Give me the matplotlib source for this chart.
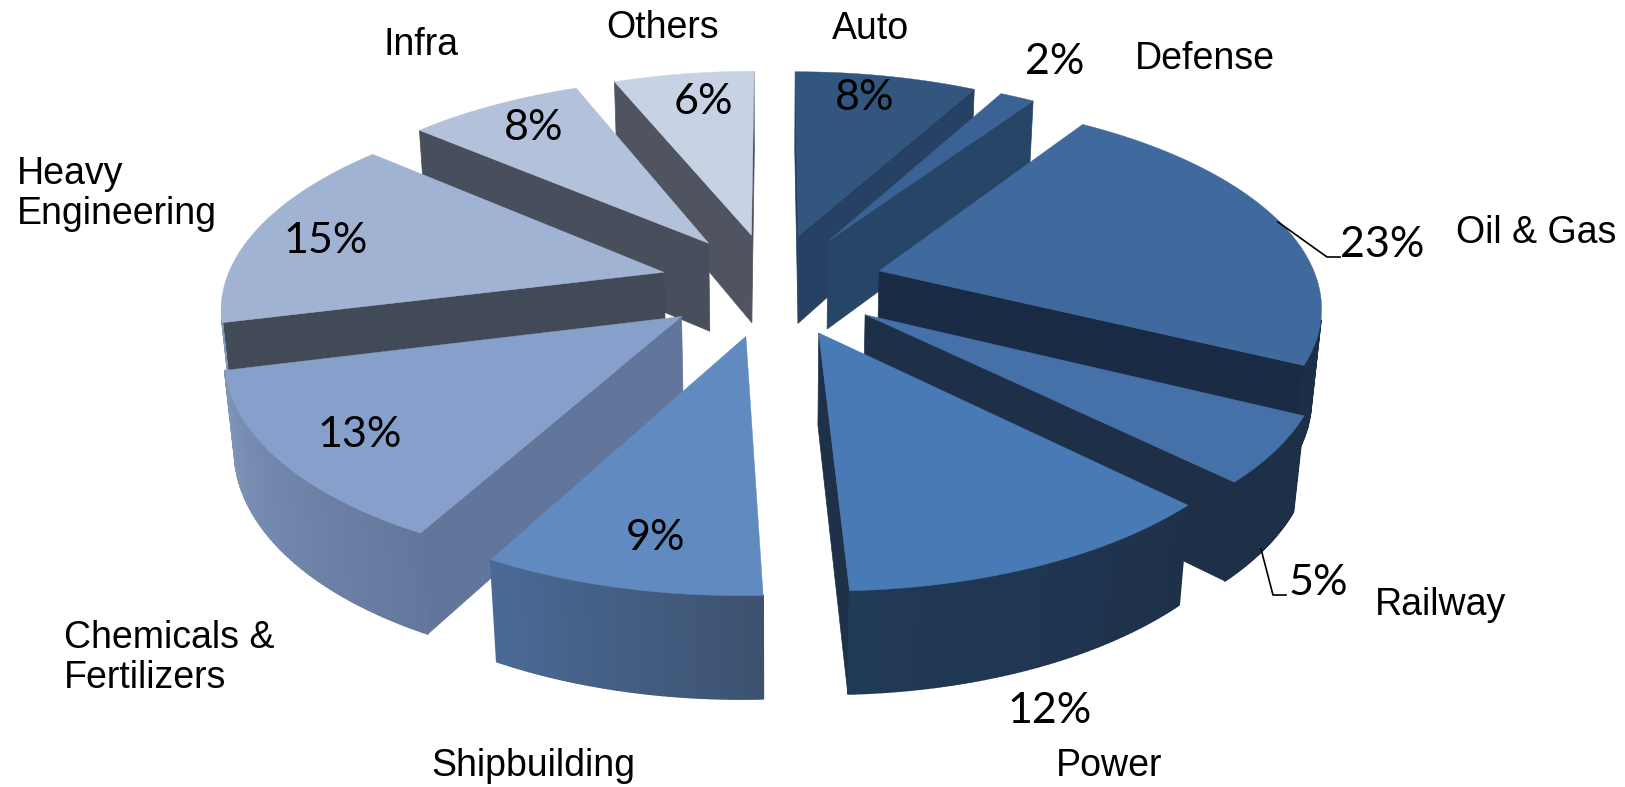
"""Exploded 3D pie of sector shares, projected by hand onto a flat axes."""
import numpy as np
import matplotlib; matplotlib.use("Agg")
import matplotlib.pyplot as plt
from matplotlib.collections import PolyCollection
from matplotlib.colors import to_rgb

sectors = ['Auto', 'Defense', 'Oil & Gas', 'Railway', 'Power', 'Shipbuilding',
           'Chemicals &\nFertilizers', 'Heavy\nEngineering', 'Infra', 'Others']
# printed labels are rounded, slice sizes are estimated from the slice angles
pct_labels = [8, 2, 23, 5, 12, 9, 13, 15, 8, 6]
shares = [7.9, 1.5, 22.9, 5.1, 11.9, 8.5, 13.2, 15.2, 7.6, 6.1]

top_cols = ['#33567f', '#3a6294', '#40699e', '#4670a8', '#487ab5',
            '#608ac0', '#87a0cb', '#a1b3d2', '#b3c1db', '#c7d2e5']
wall_cols = ['#264164', '#274567', '#1a2c45', '#1e3048', '#1e3149',
             '#3d5270', '#62759a', '#424a58', '#484e5b', '#4f5460']
rim_start = ['#264164', '#274567', '#1a2c45', '#1e3048', '#1e3149',
             '#3d5270', '#64789e', '#7f94b8', '#8090aa', '#8a96ac']
rim_end = ['#264164', '#274567', '#1c2e48', '#1e3048', '#213a58',
           '#4a6a96', '#7f94b8', '#8090aa', '#8a96ac', '#8a96ac']

# camera and pie geometry (pixels for the scale and centre)
SCALE, CX, CY = 439, 772, 284
SIN_T, COS_T, DIST = 0.461, 0.887, 5.85
EXPLODE, THICK = 0.255, 0.235


def project(x, y, z):
    s = DIST / (DIST + y * COS_T - z * SIN_T)
    return CX + SCALE * x * s, CY - SCALE * (y * SIN_T + z * COS_T) * s


def quad_area(p):
    x, y = np.array(p).T
    return 0.5 * np.sum(x * np.roll(y, -1) - np.roll(x, -1) * y)


def corner(ox, oy, r, a, z):
    return project(ox + r * np.sin(a), oy + r * np.cos(a), z)


fig = plt.figure(figsize=(16.25, 7.87), dpi=100)
ax = fig.add_axes([0, 0, 1, 1])
ax.set_xlim(0, 1625); ax.set_ylim(787, 0); ax.axis('off')

edges = np.cumsum([0] + shares) / sum(shares) * 2 * np.pi
mids = (edges[:-1] + edges[1:]) / 2
order = np.argsort(-np.cos(mids))  # far slices first

for zo, i in enumerate(order):
    a0, a1, m = edges[i], edges[i + 1], mids[i]
    ox, oy = EXPLODE * np.sin(m), EXPLODE * np.cos(m)
    arc = np.linspace(a0, a1, 60)
    # radial walls, only when they face the camera
    walls = [(a1, 1), (a0, -1)]
    for a, sign in walls:
        q = [corner(ox, oy, 0, a, 0), corner(ox, oy, 1, a, 0),
             corner(ox, oy, 1, a, -THICK), corner(ox, oy, 0, a, -THICK)]
        if quad_area(q) * sign > 0:
            ax.fill(*zip(*q), color=wall_cols[i], lw=0.5, zorder=zo)
    # rim with a left/right colour ramp
    polys, cols = [], []
    c0, c1 = np.array(to_rgb(rim_start[i])), np.array(to_rgb(rim_end[i]))
    for j in range(len(arc) - 1):
        q = [corner(ox, oy, 1, arc[j], 0), corner(ox, oy, 1, arc[j + 1], 0),
             corner(ox, oy, 1, arc[j + 1], -THICK), corner(ox, oy, 1, arc[j], -THICK)]
        if quad_area(q) < 0:
            polys.append(q)
            cols.append(c0 + (c1 - c0) * j / (len(arc) - 2))
    if polys:
        ax.add_collection(PolyCollection(polys, facecolors=cols, edgecolors=cols, linewidths=1.2, zorder=zo))
    # top face
    top = [corner(ox, oy, 0, a0, 0)] + [corner(ox, oy, 1, a, 0) for a in arc]
    ax.fill(*zip(*top), color=top_cols[i], lw=0.3, zorder=zo)

# leader lines for the two outside labels
ax.plot([1278, 1327, 1340], [222, 257, 257], color='black', lw=1.2, zorder=50)
ax.plot([1261, 1273, 1286], [549, 595, 595], color='black', lw=1.2, zorder=50)

name_pos = [(870, 29, 'center'), (1205, 59, 'center'), (1536, 233, 'center'),
            (1441, 605, 'center'), (1109, 766, 'center'), (533, 766, 'center'),
            (64, 658, 'left'), (17, 194, 'left'), (421, 45, 'center'), (663, 28, 'center')]
pct_pos = [(865, 98), (1055, 62), (1382, 245), (1318, 583), (1050, 711),
           (655, 538), (360, 435), (326, 241), (534, 128), (703, 102)]
for name, (x, y, ha) in zip(sectors, name_pos):
    ax.text(x, y, name, ha=ha, va='center', fontsize=27, family='Liberation Sans', linespacing=1.15, zorder=60)
for s, (x, y) in zip(pct_labels, pct_pos):
    ax.text(x, y, f'{s}%', ha='center', va='center', fontsize=31, family='Lato', zorder=60)

fig.savefig('out.png', dpi=100)
plt.close(fig)
